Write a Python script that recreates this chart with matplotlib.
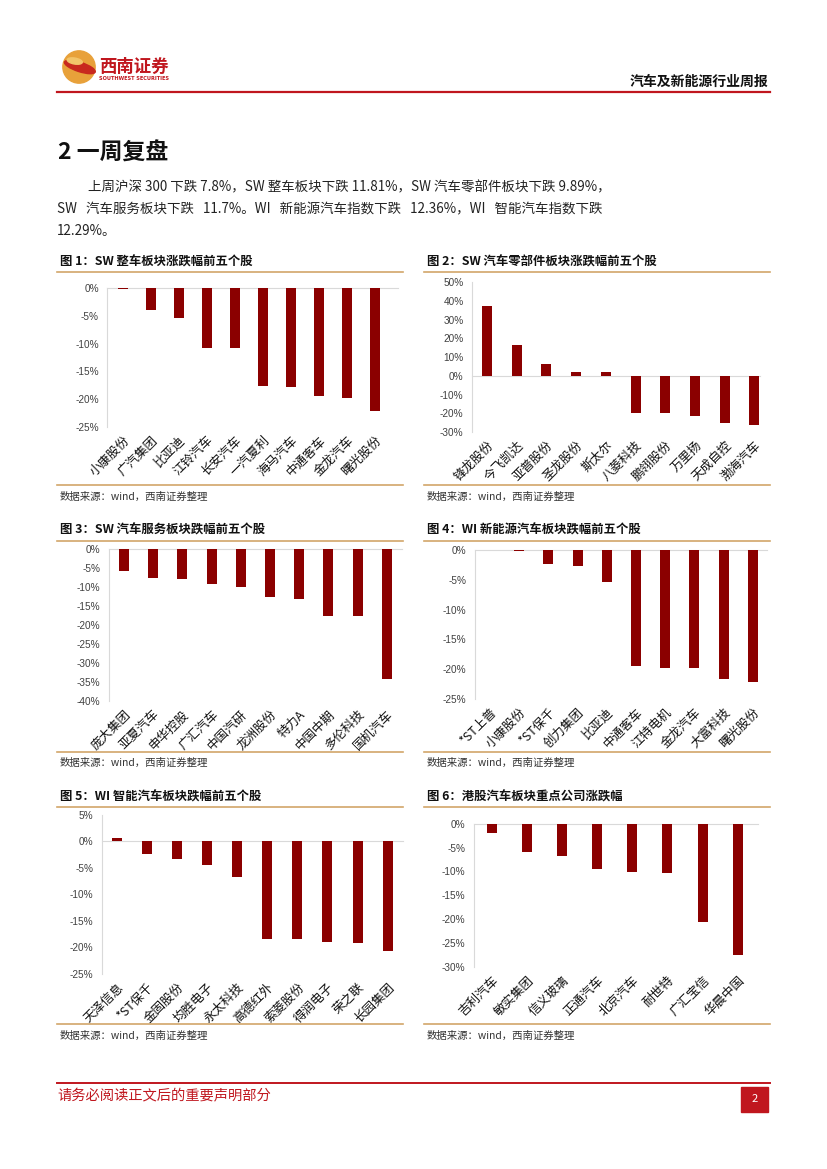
import matplotlib
matplotlib.use('Agg')
import matplotlib.pyplot as plt
from matplotlib.patches import Circle, Ellipse, Rectangle
from matplotlib.lines import Line2D

plt.rcParams['font.family'] = ['Noto Sans CJK SC', 'DejaVu Sans']

# 数据
names1 = ['小康股份', '广汽集团', '比亚迪', '江铃汽车', '长安汽车', '一汽夏利', '海马汽车', '中通客车', '金龙汽车', '曙光股份']
vals1 = [-0.2, -4.0, -5.4, -10.7, -10.8, -17.7, -17.9, -19.5, -19.9, -22.1]

names2 = ['锋龙股份', '今飞凯达', '亚普股份', '圣龙股份', '斯太尔', '八菱科技', '鹏翎股份', '万里扬', '天成自控', '渤海汽车']
vals2 = [37.4, 16.5, 6.4, 2.3, 1.8, -19.7, -20.1, -21.7, -25.3, -26.2]

names3 = ['庞大集团', '亚夏汽车', '申华控股', '广汇汽车', '中国汽研', '龙洲股份', '特力A', '中国中期', '多伦科技', '国机汽车']
vals3 = [-5.7, -7.7, -8.0, -9.2, -9.9, -12.5, -13.2, -17.6, -17.6, -34.3]

names4 = ['*ST上普', '小康股份', '*ST保千', '创力集团', '比亚迪', '中通客车', '江特电机', '金龙汽车', '大富科技', '曙光股份']
vals4 = [0.0, -0.2, -2.4, -2.7, -5.4, -19.5, -19.75, -19.8, -21.65, -22.1]

names5 = ['天泽信息', '*ST保千', '金固股份', '均胜电子', '永太科技', '高德红外', '索菱股份', '得润电子', '荣之联', '长园集团']
vals5 = [0.7, -2.4, -3.3, -4.4, -6.8, -18.45, -18.45, -19.0, -19.2, -20.7]

names6 = ['吉利汽车', '敏实集团', '信义玻璃', '正通汽车', '北京汽车', '耐世特', '广汇宝信', '华晨中国']
vals6 = [-2.0, -5.9, -6.8, -9.4, -10.1, -10.35, -20.7, -27.5]

titles = ['图 1：SW 整车板块涨跌幅前五个股', '图 2：SW 汽车零部件板块涨跌幅前五个股',
          '图 3：SW 汽车服务板块跌幅前五个股', '图 4：WI 新能源汽车板块跌幅前五个股',
          '图 5：WI 智能汽车板块跌幅前五个股', '图 6：港股汽车板块重点公司涨跌幅']
source = '数据来源：wind，西南证券整理'

W, H = 827, 1169
BAR = '#8B0000'
GOLD = '#D2A66A'
RED = '#C0161E'

fig = plt.figure(figsize=(W / 100, H / 100), dpi=100)


def fx(x):
    return x / W


def fy(y):
    return 1 - y / H


def hline(x0, x1, y, color, lw):
    fig.add_artist(Line2D([fx(x0), fx(x1)], [fy(y), fy(y)], color=color, lw=lw,
                          transform=fig.transFigure))


# 页眉
logo = fig.add_axes([fx(62), fy(84), fx(96) - fx(62), fy(50) - fy(84)])
logo.set_xlim(-1, 1)
logo.set_ylim(-1, 1)
logo.set_aspect('equal')
logo.axis('off')
logo.add_patch(Circle((0, 0), 0.95, color='#E8A13A'))
logo.add_patch(Ellipse((0.05, 0.0), 1.9, 0.55, angle=-18, color='#C8281E'))
logo.add_patch(Ellipse((-0.25, 0.35), 0.9, 0.35, angle=-10, color='#F2C46A'))
fig.text(fx(99), fy(67), '西南证券', fontsize=12.5, fontweight='bold', color=RED, va='center')
fig.text(fx(99), fy(79), 'SOUTHWEST SECURITIES', fontsize=3.6, fontweight='bold', color=RED,
         va='center', family='DejaVu Sans')
fig.text(fx(768), fy(82), '汽车及新能源行业周报', fontsize=10, fontweight='bold', ha='right',
         va='center', color='#111111')
hline(57, 770, 92, RED, 1.6)

# 正文
fig.text(fx(58), fy(153), '2 一周复盘', fontsize=16.5, fontweight='bold', va='center', color='#111111')
para = ['上周沪深 300 下跌 7.8%，SW 整车板块下跌 11.81%，SW 汽车零部件板块下跌 9.89%，',
        'SW   汽车服务板块下跌   11.7%。WI   新能源汽车指数下跌   12.36%，WI   智能汽车指数下跌',
        '12.29%。']
fig.text(fx(88), fy(187), para[0], fontsize=9.7, va='center', color='#222222')
fig.text(fx(57), fy(209), para[1], fontsize=9.7, va='center', color='#222222')
fig.text(fx(57), fy(231), para[2], fontsize=9.7, va='center', color='#222222')

# 图表布局 (像素): 左, 上, 右, 下, 第一根柱中心, 间距, ylim, 步长
charts = [
    (names1, vals1, (107.3, 288.3, 398, 426.7, 122.7, 28.03), (-25, 0), 5),
    (names2, vals2, (472, 282.3, 760, 432, 487, 29.7), (-30, 50), 10),
    (names3, vals3, (109, 549, 402, 701, 124, 29.2), (-40, 0), 5),
    (names4, vals4, (475, 550, 767, 699, 490, 29.2), (-25, 0), 5),
    (names5, vals5, (101.7, 815, 403, 973.7, 116.7, 30.1), (-25, 5), 5),
    (names6, vals6, (474, 823.7, 758, 966.7, 491.7, 35.15), (-30, 0), 5),
]
rows = [(261.7, 271.7, 485, 497), (530, 540.7, 751.7, 763), (796.7, 807.3, 1024.3, 1035.7)]

for i, (names, vals, box, ylim, step) in enumerate(charts):
    left, top, right, bottom, first, space = box
    col = i % 2
    t_y, l_y, b_y, s_y = rows[i // 2]
    tx = 60 if col == 0 else 427
    lx0, lx1 = (57, 403) if col == 0 else (424, 770)

    fig.text(fx(tx), fy(t_y), titles[i], fontsize=8.9, fontweight='bold', va='center', color='#111111')
    hline(lx0, lx1, l_y, GOLD, 1.2)
    hline(lx0, lx1, b_y, GOLD, 1.2)
    fig.text(fx(tx), fy(s_y), source, fontsize=7.5, style='italic', va='center', color='#333333')

    ax = fig.add_axes([fx(left), fy(bottom), fx(right) - fx(left), fy(top) - fy(bottom)])
    pos = list(range(len(names)))
    ax.bar(pos, vals, width=10 / space, color=BAR, zorder=3)
    ax.set_xlim((left - first) / space, (right - first) / space)
    ax.set_ylim(*ylim)
    ax.axhline(0, color='#D9D9D9', lw=0.8, zorder=2, clip_on=False)
    ticks = list(range(ylim[0], ylim[1] + 1, step))
    ax.set_yticks(ticks)
    ax.set_yticklabels(['%d%%' % t for t in ticks], fontsize=7.2, color='#404040', family='Liberation Sans')
    ax.set_xticks(pos)
    ax.set_xticklabels(names, fontsize=9, rotation=45, ha='right', rotation_mode='anchor',
                       color='#111111')
    ax.tick_params(axis='both', length=0)
    ax.tick_params(axis='y', pad=6)
    ax.tick_params(axis='x', pad=5)
    for s in ['top', 'right', 'bottom']:
        ax.spines[s].set_visible(False)
    ax.spines['left'].set_color('#D9D9D9')
    ax.spines['left'].set_linewidth(0.8)
    ax.patch.set_alpha(0)

# 页脚
hline(57, 770, 1083, RED, 1.4)
fig.text(fx(57), fy(1096), '请务必阅读正文后的重要声明部分', fontsize=10.3, va='center', color=RED)
fig.add_artist(Rectangle((fx(741), fy(1112)), fx(768) - fx(741), fy(1087) - fy(1112),
                         color=RED, transform=fig.transFigure))
fig.text(fx(754.5), fy(1099.5), '2', fontsize=8, color='white', ha='center', va='center')

fig.savefig('out.png', dpi=100)
